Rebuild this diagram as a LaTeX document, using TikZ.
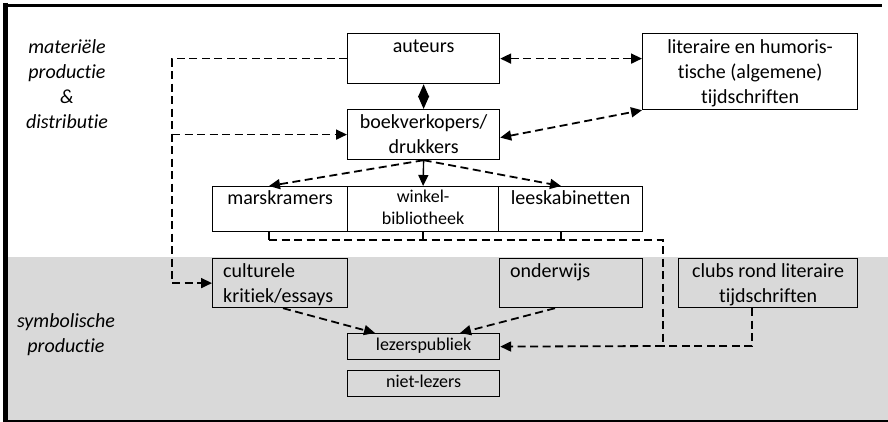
\documentclass[tikz,border=0pt]{standalone}
\usepackage{fontspec}
\setmainfont{Carlito}[Ligatures={NoCommon,NoContextual}]
\usetikzlibrary{arrows.meta}
\definecolor{bggray}{HTML}{D9D9D9}
\begin{document}
\begin{tikzpicture}[x=1pt,y=-1pt,
  box/.style={draw, line width=1.2pt, inner sep=0pt, anchor=north west},
  lbl/.style={anchor=north, inner sep=0pt, align=center, font=\fontsize{20}{25}\selectfont},
  lbll/.style={anchor=north west, inner sep=0pt, align=left, font=\fontsize{20}{25}\selectfont},
  lbls/.style={anchor=north, inner sep=0pt, align=center, font=\fontsize{18}{22}\selectfont},
  side/.style={anchor=north, inner sep=0pt, align=center, font=\fontsize{20}{25}\selectfont\itshape},
  dsh/.style={line width=1.8pt, dash pattern=on 8pt off 4.5pt},
  sol/.style={line width=1.4pt},
  tip/.style={-{Triangle[length=11pt,width=10pt]}},
  tips/.style={{Triangle[length=11pt,width=10pt]}-{Triangle[length=11pt,width=10pt]}},
  dia/.style={{Triangle[length=13pt,width=11pt]}-{Triangle[length=13pt,width=11pt]}},
]
\useasboundingbox (0,0) rectangle (888,422);
% background band and frame
\fill[bggray] (3,257) rectangle (888,421);
\draw[line width=5pt] (5.5,3) -- (5.5,422);
\draw[line width=3.5pt] (3,5.5) -- (882,5.5);
\draw[line width=1.5pt] (3,421) -- (888,421);

% side labels
\node[side] (sideA) at (67,35.5) {\strut materiële\\productie\\\&\\distributie};
\node[side] (sideB) at (66,310) {\strut symbolische\\productie};

% boxes
\node[box, fill=white, minimum width=152pt, minimum height=50pt] (aut) at (347,33) {};
\node[box, fill=white, minimum width=152pt, minimum height=50pt] (boek) at (347,109) {};
\node[box, fill=white, minimum width=215pt, minimum height=76pt] (lit) at (642,33) {};
\node[box, fill=white, minimum width=135pt, minimum height=45pt] (mars) at (212,186) {};
\node[box, fill=white, minimum width=151pt, minimum height=45pt] (wink) at (347,186) {};
\node[box, fill=white, minimum width=144pt, minimum height=45pt] (lees) at (498,186) {};
\node[box, minimum width=135pt, minimum height=49pt] (cult) at (212,258) {};
\node[box, minimum width=143pt, minimum height=49pt] (ond) at (499,258) {};
\node[box, minimum width=179pt, minimum height=49pt] (club) at (678,258) {};
\node[box, minimum width=152pt, minimum height=26pt] (lez) at (347,333) {};
\node[box, minimum width=152pt, minimum height=26pt] (niet) at (347,370) {};

% box texts
\node[lbl] (autT) at ([yshift=-1.5pt]aut.north) {\strut auteurs};
\node[lbl] (boekT) at ([yshift=-1.5pt]boek.north) {\strut boekverkopers/\\drukkers};
\node[lbl] (litT) at ([yshift=-2.5pt]lit.north) {\strut literaire en humoris-\\tische (algemene)\\tijdschriften};
\node[lbl] (marsT) at ([yshift=-1pt]mars.north) {\strut marskramers};
\node[lbls] (winkT) at ([yshift=-1pt]wink.north) {\strut winkel-\\bibliotheek};
\node[lbl] (leesT) at ([yshift=-1pt]lees.north) {\strut leeskabinetten};
\node[lbll] (cultT) at ([xshift=11pt,yshift=-1.5pt]cult.north west) {\strut culturele\\kritiek/essays};
\node[lbll] (ondT) at ([xshift=11pt,yshift=-1.5pt]ond.north west) {\strut onderwijs};
\node[lbl] (clubT) at ([yshift=-1.5pt]club.north) {\strut clubs rond literaire\\tijdschriften};
\node[lbls] (lezT) at ([yshift=-2pt]lez.north) {\strut lezerspubliek};
\node[lbls] (nietT) at ([yshift=-2pt]niet.north) {\strut niet-lezers};

% helper coordinates
\coordinate (lx) at (172,0);
\coordinate (m1) at (269,240);
\coordinate (m2) at (423,240);
\coordinate (m3) at (561,240);
\coordinate (rx) at (663,240);
\coordinate (ry) at (663,346);
\coordinate (cy) at (752,346);

% connectors top
\draw[dsh, tips] (aut.east) -- (lit.west |- aut.east);
\draw[dsh, tips] ([yshift=-3pt]boek.east) -- (lit.south west);
\draw[sol, dia] (aut.south) -- (boek.north);
\draw[dsh] (aut.west) -- (lx |- aut.west) -- (lx |- cult.west);
\draw[dsh, tip] (lx |- cult.west) -- (cult.west);
\draw[dsh, tip] (lx |- boek.west) -- (boek.west);
\draw[dsh, tip] (boek.south) -- (m1 |- mars.north);
\draw[sol, tip] (boek.south) -- (wink.north);
\draw[dsh, tip] (boek.south) -- (m3 |- lees.north);

% bracket under distribution boxes
\draw[sol] (m1 |- mars.south) -- (m1);
\draw[sol] (m2 |- wink.south) -- (m2);
\draw[sol] (m3 |- lees.south) -- (m3);
\draw[dsh] (m1) -- (rx) -- (ry);

% lower connectors
\draw[dsh, tip] ([xshift=71pt]cult.south west) -- ([xshift=28pt]lez.north west);
\draw[dsh, tip] ([xshift=56pt]ond.south west) -- ([xshift=113pt]lez.north west);
\draw[dsh] (club.south -| cy) -- (cy) -- (ry);
\draw[dsh, tip] (ry) -- (lez.east);
\end{tikzpicture}
\end{document}
